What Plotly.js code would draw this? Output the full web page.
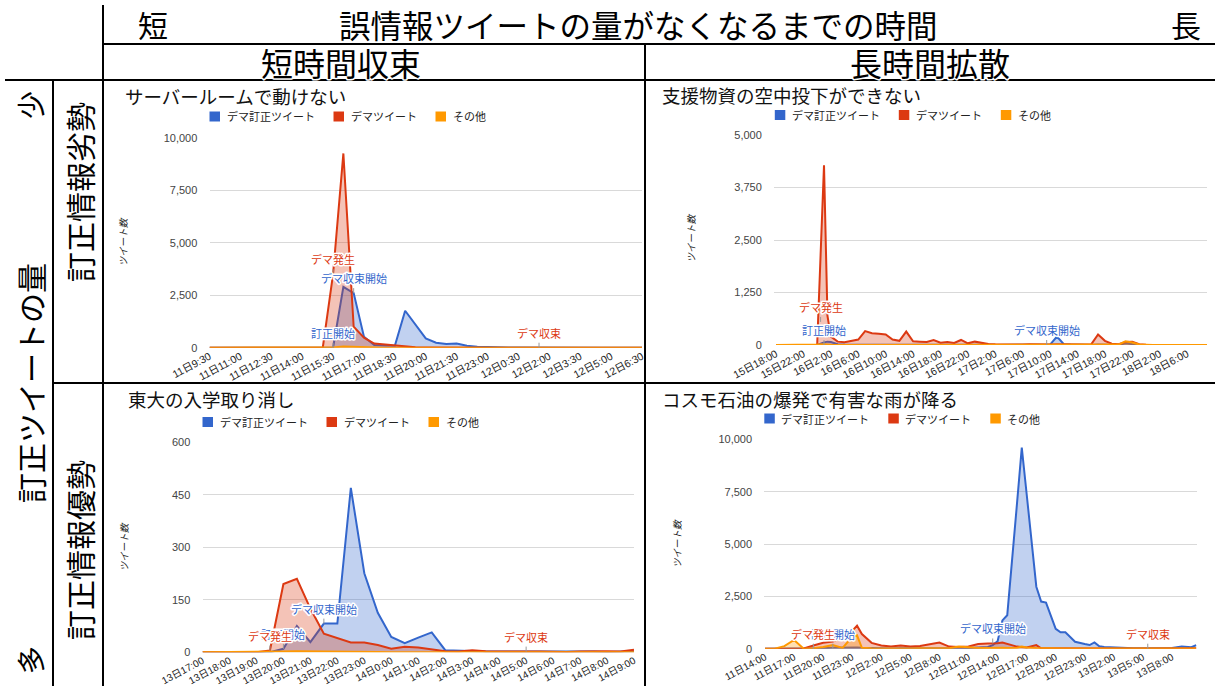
<!DOCTYPE html>
<html><head><meta charset="utf-8">
<script src="https://cdn.plot.ly/plotly-3.0.1.min.js"></script>
<style>
html,body{margin:0;padding:0;background:#fff;overflow:hidden;}
#chart{width:1215px;height:686px;}
.annotation-text{paint-order:stroke;stroke:#fff;stroke-width:3px;stroke-linejoin:round;}
</style></head>
<body><div id="chart"></div>
<script>
// ---------- shared ----------
const seriesNames = ['デマ訂正ツイート', 'デマツイート', 'その他'];
const seriesColors = ['#3366cc', '#dc3912', '#ff9900'];
const seriesFills = ['rgba(51,102,204,0.3)', 'rgba(220,57,18,0.3)', 'rgba(255,153,0,0.3)'];
const yAxisTitle = 'ツイート数';

const headerTop = '誤情報ツイートの量がなくなるまでの時間';
const headerShort = '短';
const headerLong = '長';
const colHeaders = ['短時間収束', '長時間拡散'];
const sideTitle = '訂正ツイートの量';
const sideFew = '少';
const sideMany = '多';
const rowHeaders = ['訂正情報劣勢', '訂正情報優勢'];

// ---------- chart 1: サーバールームで動けない (hours after 11日9:30) ----------
const c1Title = 'サーバールームで動けない';
const c1Hours = [0,0.5,1,1.5,2,2.5,3,3.5,4,4.5,5,5.5,6,6.5,7,7.5,8,8.5,9,9.5,10,10.5,11,11.5,12,12.5,13,13.5,14,14.5,15,15.5,16,16.5,17,17.5,18,18.5,19,19.5,20,20.5,21];
const c1Blue   = [0,0,0,0,0,0,0,0,0,0,0,0,0,2900,2600,520,130,100,90,1760,1100,440,240,175,200,95,45,20,10,5,5,0,10,0,0,0,0,0,0,0,0,0,0];
const c1Red    = [0,0,0,0,0,0,0,0,0,0,0,0,3500,9250,1000,480,200,150,90,50,20,10,5,0,0,0,0,0,0,0,0,0,0,0,0,0,0,0,0,0,0,0,0];
const c1Orange = [0,0,0,0,0,0,0,0,0,0,0,0,10,60,40,10,0,0,0,0,0,0,0,0,0,0,0,0,0,0,0,0,0,0,0,0,0,0,0,0,0,0,0];
const c1TickHours = [0,1.5,3,4.5,6,7.5,9,10.5,12,13.5,15,16.5,18,19.5,21];
const c1TickLabels = ['11日9:30','11日11:00','11日12:30','11日14:00','11日15:30','11日17:00','11日18:30','11日20:00','11日21:30','11日23:00','12日0:30','12日2:00','12日3:30','12日5:00','12日6:30'];
const c1NoteText = ['デマ発生', 'デマ収束開始', '訂正開始', 'デマ収束'];
const c1NoteSeries = [1, 0, 0, 1];
const c1NoteHour = [6, 7, 6, 16];
const c1NoteValue = [3500, 2600, 0, 0];

// ---------- chart 2: 支援物資の空中投下ができない (hours after 15日18:00) ----------
const c2Title = '支援物資の空中投下ができない';
const c2Hours = [0,1,2,3,4,5,6,7,7.5,8,9,10,11,12,13,14,15,16,17,18,19,20,21,22,23,24,25,26,27,28,29,30,31,32,33,34,35,36,37,38,39,40,41,42,43,44,45,46,47,48,49,50,51,52,53,54,55,56,57,58,59,60,61,62,63];
const c2Blue   = [0,0,0,0,0,0,0,60,80,70,20,10,10,10,15,20,15,20,10,15,20,10,5,5,5,5,5,5,5,5,5,5,5,0,0,0,0,0,0,0,5,10,200,20,10,5,0,0,10,10,5,0,40,20,0,0,0,0,0,0,0,0,0,0,0];
const c2Red    = [0,0,0,0,0,0,0,4280,700,200,80,65,90,130,330,280,270,250,130,100,320,90,80,70,120,55,70,50,120,40,80,50,25,15,10,10,15,10,20,15,10,10,20,15,10,20,10,15,250,100,30,20,70,80,20,5,0,0,0,0,0,0,0,0,0];
const c2Orange = [0,0,0,0,0,0,10,20,10,5,0,0,0,0,5,5,5,5,0,0,5,0,0,0,0,0,0,0,0,0,0,0,0,0,0,0,0,0,0,0,0,0,0,0,0,0,0,0,0,0,0,10,90,60,10,0,0,0,0,0,0,0,0,0,0];
const c2TickHours = [0,4,8,12,16,20,24,28,32,36,40,44,48,52,56,60];
const c2TickLabels = ['15日18:00','15日22:00','16日2:00','16日6:00','16日10:00','16日14:00','16日18:00','16日22:00','17日2:00','17日6:00','17日10:00','17日14:00','17日18:00','17日22:00','18日2:00','18日6:00'];
const c2NoteText = ['訂正開始', 'デマ発生', 'デマ収束開始'];
const c2NoteSeries = [0, 1, 0];
const c2NoteHour = [7, 6.5, 39.5];
const c2NoteValue = [0, 550, 0];

// ---------- chart 3: 東大の入学取り消し (hours after 13日17:00) ----------
const c3Title = '東大の入学取り消し';
const c3Hours = [0,0.5,1,1.5,2,2.5,3,3.5,4,4.5,5,5.5,6,6.5,7,7.5,8,8.5,9,9.5,10,10.5,11,11.5,12,12.5,13,13.5,14,14.5,15,15.5,16];
const c3Blue   = [0,0,0,0,0,0,10,75,29,82,82,470,226,113,44,26,42,57,6,4,3,2,2,2,4,2,2,2,4,2,1,1,3];
const c3Red    = [0,0,0,0,0,5,195,210,125,53,41,28,28,21,10,16,14,9,3,2,6,3,2,2,2,2,1,1,2,3,3,2,7];
const c3Orange = [0,0,0,0,0,0,2,3,3,2,1,1,1,1,0,0,0,0,0,0,0,0,0,0,0,0,0,0,0,0,0,0,0];
const c3TickHours = [0,1,2,3,4,5,6,7,8,9,10,11,12,13,14,15,16];
const c3TickLabels = ['13日17:00','13日18:00','13日19:00','13日20:00','13日21:00','13日22:00','13日23:00','14日0:00','14日1:00','14日2:00','14日3:00','14日4:00','14日5:00','14日6:00','14日7:00','14日8:00','14日9:00'];
const c3NoteText = ['訂正開始', 'デマ発生', 'デマ収束開始', 'デマ収束'];
const c3NoteSeries = [0, 1, 0, 1];
const c3NoteHour = [3, 2.5, 4.5, 12];
const c3NoteValue = [10, 5, 82, 2];

// ---------- chart 4: コスモ石油の爆発で有害な雨が降る (hours after 11日14:00) ----------
const c4Title = 'コスモ石油の爆発で有害な雨が降る';
const c4Hours = [0,1,2,3,4,5,6,7,8,9,9.5,10,11,12,13,14,15,16,17,18,19,20,21,22,23,23.5,24,24.5,25,26,26.5,27,28,28.5,29,30,30.5,31,32,33,33.5,34,34.5,35,36,37,38,39,40,41,42,43,44,44.5];
const c4Blue   = [0,0,0,0,0,10,20,50,60,80,60,40,20,10,10,20,10,10,20,20,10,20,30,40,80,170,350,1350,1600,6900,9600,7400,2960,2250,2200,950,780,780,330,220,175,300,120,80,50,30,20,20,20,20,30,100,70,175];
const c4Red    = [0,0,0,0,10,150,280,340,500,850,1100,700,280,150,100,150,100,130,200,290,100,80,110,220,250,250,260,300,230,100,80,60,170,20,20,15,10,10,10,10,5,5,5,5,5,5,5,10,10,10,10,10,10,20];
const c4Orange = [0,0,120,414,0,20,80,180,40,550,640,40,20,10,10,20,10,20,30,40,20,100,60,30,30,40,50,40,30,50,100,60,30,20,10,10,5,5,5,5,5,5,5,5,5,5,5,5,5,5,5,5,10,10];
const c4TickHours = [0,3,6,9,12,15,18,21,24,27,30,33,36,39,42];
const c4TickLabels = ['11日14:00','11日17:00','11日20:00','11日23:00','12日2:00','12日5:00','12日8:00','12日11:00','12日14:00','12日17:00','12日20:00','12日23:00','13日2:00','13日5:00','13日8:00'];
const c4NoteText = ['訂正開始', 'デマ発生', 'デマ収束開始', 'デマ収束'];
const c4NoteSeries = [0, 1, 0, 1];
const c4NoteHour = [7, 5, 23.5, 39.5];
const c4NoteValue = [0, 0, 250, 0];

// ---------- layout helpers (pixel -> paper) ----------
const W = 1215, H = 686;
const fx = v => v / W;
const fy = v => 1 - v / H;
const JP = "'Noto Sans CJK JP', sans-serif";
const GC = "'Liberation Sans', Arial, 'Noto Sans CJK JP', sans-serif";

const charts = [
  {title: c1Title, hours: c1Hours, vals: [c1Blue, c1Red, c1Orange], tv: c1TickHours, tt: c1TickLabels,
   xr: [0, 21], yMax: 10000, yStep: 2500, box: [209.5, 642, 347.7, 137.7],
   titleAt: [122.6, 96], legendAt: [209.5, 116.5], yTitleAt: [122.6, 241.7], tickSize: 10.5,
   notes: [c1NoteText, c1NoteSeries, c1NoteHour, c1NoteValue]},
  {title: c2Title, hours: c2Hours, vals: [c2Blue, c2Red, c2Orange], tv: c2TickHours, tt: c2TickLabels,
   xr: [-0.3, 62.9], yMax: 5000, yStep: 1250, box: [774, 1207, 345, 135],
   titleAt: [659.5, 95], legendAt: [774.8, 115], yTitleAt: [690.5, 238], tickSize: 10.5,
   notes: [c2NoteText, c2NoteSeries, c2NoteHour, c2NoteValue]},
  {title: c3Title, hours: c3Hours, vals: [c3Blue, c3Red, c3Orange], tv: c3TickHours, tt: c3TickLabels,
   xr: [0, 16], yMax: 600, yStep: 150, box: [202.5, 634, 652.3, 442.3],
   titleAt: [126, 399], legendAt: [202.5, 422], yTitleAt: [123.6, 546.7], tickSize: 10,
   notes: [c3NoteText, c3NoteSeries, c3NoteHour, c3NoteValue]},
  {title: c4Title, hours: c4Hours, vals: [c4Blue, c4Red, c4Orange], tv: c4TickHours, tt: c4TickLabels,
   xr: [-0.07, 44.54], yMax: 10000, yStep: 2500, box: [764.3, 1196.6, 648.7, 439.3],
   titleAt: [659.5, 399], legendAt: [764.3, 418.5], yTitleAt: [677.7, 543.3], tickSize: 10,
   notes: [c4NoteText, c4NoteSeries, c4NoteHour, c4NoteValue]}
];
const legendOffsets = [0, 124, 226];

const data = [];
const layout = {
  width: W, height: H,
  margin: {l: 0, r: 0, t: 0, b: 0},
  paper_bgcolor: '#fff', plot_bgcolor: '#fff',
  showlegend: false,
  font: {family: GC, color: '#222'},
  annotations: [], shapes: []
};

charts.forEach((c, i) => {
  const n = i + 1;
  const xa = n === 1 ? 'x' : 'x' + n;
  const ya = n === 1 ? 'y' : 'y' + n;
  const xKey = n === 1 ? 'xaxis' : 'xaxis' + n;
  const yKey = n === 1 ? 'yaxis' : 'yaxis' + n;
  c.vals.forEach((v, s) => {
    data.push({
      type: 'scatter', mode: 'lines', x: c.hours, y: v, xaxis: xa, yaxis: ya,
      name: seriesNames[s], fill: 'tozeroy', fillcolor: seriesFills[s],
      line: {color: seriesColors[s], width: 2}, hoverinfo: 'skip'
    });
  });
  const yTicks = [];
  for (let t = 0; t <= c.yMax; t += c.yStep) yTicks.push(t);
  layout[xKey] = {
    domain: [fx(c.box[0]), fx(c.box[1])], anchor: ya, range: c.xr, type: 'linear',
    tickmode: 'array', tickvals: c.tv, ticktext: c.tt, tickangle: -28,
    tickfont: {size: c.tickSize, color: '#222', family: GC},
    showgrid: false, zeroline: false, showline: false, ticks: '', fixedrange: true
  };
  layout[yKey] = {
    domain: [fy(c.box[2]), fy(c.box[3])], anchor: xa, range: [0, c.yMax],
    tickmode: 'array', tickvals: yTicks, tickformat: ',d',
    tickfont: {size: 11, color: '#444', family: GC},
    showgrid: true, gridcolor: '#d9d9d9', gridwidth: 1, zeroline: false, showline: false,
    ticks: 'outside', ticklen: 9, tickcolor: 'rgba(0,0,0,0)', fixedrange: true
  };
  // chart title
  layout.annotations.push({xref: 'paper', yref: 'paper', x: fx(c.titleAt[0]), y: fy(c.titleAt[1]),
    xanchor: 'left', yanchor: 'middle', showarrow: false, text: c.title,
    font: {family: JP, size: 18.5, color: '#111'}});
  // y-axis title
  layout.annotations.push({xref: 'paper', yref: 'paper', x: fx(c.yTitleAt[0]), y: fy(c.yTitleAt[1]),
    xanchor: 'center', yanchor: 'middle', showarrow: false, text: yAxisTitle, textangle: -90,
    font: {family: JP, size: 9.5, color: '#222', style: 'italic'}});
  // legend
  seriesNames.forEach((nm, s) => {
    const lx = c.legendAt[0] + legendOffsets[s];
    const ly = c.legendAt[1];
    layout.shapes.push({type: 'rect', xref: 'paper', yref: 'paper',
      x0: fx(lx), x1: fx(lx + 10.5), y0: fy(ly + 5), y1: fy(ly - 5),
      fillcolor: seriesColors[s], line: {width: 0}});
    layout.annotations.push({xref: 'paper', yref: 'paper', x: fx(lx + 15), y: fy(ly),
      xanchor: 'left', yanchor: 'middle', showarrow: false, text: nm,
      font: {family: JP, size: 11, color: '#222'}});
  });
  // event annotations
  const [txt, ser, hr, val] = c.notes;
  txt.forEach((t, k) => {
    layout.annotations.push({xref: xa, yref: ya, x: hr[k], y: val[k], text: t,
      showarrow: true, arrowhead: 0, arrowwidth: 1, arrowcolor: '#999999',
      ax: 0, ay: -5, xanchor: 'center', yanchor: 'bottom', standoff: 0,
      font: {family: JP, size: 11, color: seriesColors[ser[k]]}});
  });
});

// ---------- table frame ----------
const lines = [
  [103, 5, 103, 686], [103, 44, 1215, 44], [5, 80, 1215, 80],
  [645, 44, 645, 686], [53, 80, 53, 686], [53, 383, 1215, 383]
];
lines.forEach(l => layout.shapes.push({type: 'line', xref: 'paper', yref: 'paper',
  x0: fx(l[0]), y0: fy(l[1]), x1: fx(l[2]), y1: fy(l[3]), line: {color: '#000', width: 2}}));

const hdr = (text, x, y, size, angle) => ({xref: 'paper', yref: 'paper', x: fx(x), y: fy(y),
  xanchor: 'center', yanchor: 'middle', showarrow: false, text: text, textangle: angle || 0,
  font: {family: JP, size: size, color: '#000'}});
layout.annotations.push(
  hdr(headerShort, 153, 24, 30),
  hdr(headerTop, 638, 24, 31.5),
  hdr(headerLong, 1186, 24, 30),
  hdr(colHeaders[0], 341, 62, 32),
  hdr(colHeaders[1], 930, 62, 32),
  hdr(sideFew, 30, 105, 28, -90),
  hdr(sideTitle, 30, 383, 30, -90),
  hdr(sideMany, 30, 660, 28, -90),
  hdr(rowHeaders[0], 79, 192, 30, -90),
  hdr(rowHeaders[1], 79, 550, 30, -90)
);

Plotly.newPlot('chart', data, layout, {displayModeBar: false, staticPlot: true});
</script>
</body></html>
